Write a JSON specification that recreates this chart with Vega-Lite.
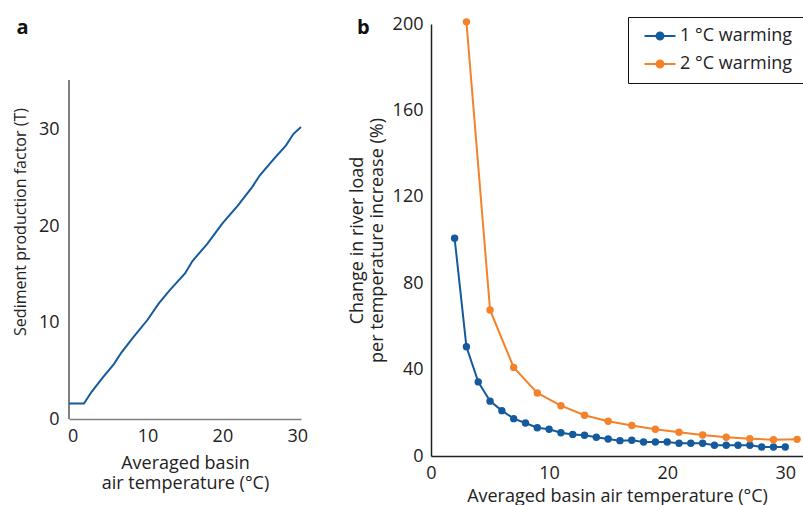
{
  "$schema": "https://vega.github.io/schema/vega-lite/v6.json",
  "padding": {"left": 12, "top": 15, "right": 0, "bottom": 0},
  "spacing": 40,
  "resolve": {"legend": {"color": "independent"}, "scale": {"color": "independent"}},
  "config": {
    "font": "Open Sans",
    "view": {"stroke": null},
    "axis": {"grid": false, "ticks": false, "labelFontSize": 18, "titleFontSize": 18, "titleFontWeight": "normal", "labelColor": "#222", "titleColor": "#222", "labelFont": "Open Sans", "titleFont": "Open Sans"},
    "title": {"fontSize": 20, "fontWeight": "bold", "font": "Open Sans", "color": "#111"}
  },
  "datasets": {
    "sed": [
      {"t": -0.5, "f": 1.6}, {"t": 1.5, "f": 1.6}, {"t": 2.5, "f": 2.8}, {"t": 4, "f": 4.3},
      {"t": 5.5, "f": 5.7}, {"t": 6.5, "f": 6.9}, {"t": 8, "f": 8.4}, {"t": 10, "f": 10.3},
      {"t": 11.5, "f": 12.0}, {"t": 13, "f": 13.4}, {"t": 15, "f": 15.1}, {"t": 16, "f": 16.4},
      {"t": 18, "f": 18.2}, {"t": 20, "f": 20.3}, {"t": 22, "f": 22.1}, {"t": 24, "f": 24.1},
      {"t": 25, "f": 25.3}, {"t": 27, "f": 27.1}, {"t": 28.5, "f": 28.4}, {"t": 29.5, "f": 29.6},
      {"t": 30.5, "f": 30.3}
    ],
    "load": [
      {"t": 2, "c": 100.8, "s": "1 °C warming"}, {"t": 3, "c": 50.6, "s": "1 °C warming"},
      {"t": 4, "c": 34.3, "s": "1 °C warming"}, {"t": 5, "c": 25.4, "s": "1 °C warming"},
      {"t": 6, "c": 21.0, "s": "1 °C warming"}, {"t": 7, "c": 17.3, "s": "1 °C warming"},
      {"t": 8, "c": 15.3, "s": "1 °C warming"}, {"t": 9, "c": 13.1, "s": "1 °C warming"},
      {"t": 10, "c": 12.4, "s": "1 °C warming"}, {"t": 11, "c": 10.8, "s": "1 °C warming"},
      {"t": 12, "c": 10.0, "s": "1 °C warming"}, {"t": 13, "c": 9.6, "s": "1 °C warming"},
      {"t": 14, "c": 8.7, "s": "1 °C warming"}, {"t": 15, "c": 7.9, "s": "1 °C warming"},
      {"t": 16, "c": 7.1, "s": "1 °C warming"}, {"t": 17, "c": 7.3, "s": "1 °C warming"},
      {"t": 18, "c": 6.5, "s": "1 °C warming"}, {"t": 19, "c": 6.5, "s": "1 °C warming"},
      {"t": 20, "c": 6.5, "s": "1 °C warming"}, {"t": 21, "c": 5.9, "s": "1 °C warming"},
      {"t": 22, "c": 5.9, "s": "1 °C warming"}, {"t": 23, "c": 5.9, "s": "1 °C warming"},
      {"t": 24, "c": 5.0, "s": "1 °C warming"}, {"t": 25, "c": 5.0, "s": "1 °C warming"},
      {"t": 26, "c": 5.0, "s": "1 °C warming"}, {"t": 27, "c": 5.0, "s": "1 °C warming"},
      {"t": 28, "c": 4.2, "s": "1 °C warming"}, {"t": 29, "c": 4.2, "s": "1 °C warming"},
      {"t": 30, "c": 4.2, "s": "1 °C warming"},
      {"t": 3, "c": 201, "s": "2 °C warming"}, {"t": 5, "c": 67.6, "s": "2 °C warming"},
      {"t": 7, "c": 41.0, "s": "2 °C warming"}, {"t": 9, "c": 29.2, "s": "2 °C warming"},
      {"t": 11, "c": 23.3, "s": "2 °C warming"}, {"t": 13, "c": 18.9, "s": "2 °C warming"},
      {"t": 15, "c": 16.1, "s": "2 °C warming"}, {"t": 17, "c": 14.1, "s": "2 °C warming"},
      {"t": 19, "c": 12.4, "s": "2 °C warming"}, {"t": 21, "c": 11.0, "s": "2 °C warming"},
      {"t": 23, "c": 9.7, "s": "2 °C warming"}, {"t": 25, "c": 8.7, "s": "2 °C warming"},
      {"t": 27, "c": 8.0, "s": "2 °C warming"}, {"t": 29, "c": 7.5, "s": "2 °C warming"},
      {"t": 31, "c": 7.7, "s": "2 °C warming"}
    ]
  },
  "hconcat": [
    {
      "title": {"text": "a", "anchor": "start", "frame": "bounds", "offset": -14, "dx": 4},
      "width": 232,
      "height": 395,
      "data": {"name": "sed"},
      "encoding": {
        "x": {"field": "t", "type": "quantitative", "scale": {"domain": [-0.5, 30.5], "nice": false, "zero": false},
              "axis": {"values": [0, 10, 20, 30], "domainColor": "#808080", "domainWidth": 1.5, "labelPadding": 8, "labelFlush": false,
                       "title": ["Averaged basin", "air temperature (°C)"], "titlePadding": 9, "titleLineHeight": 20}},
        "y": {"field": "f", "type": "quantitative", "scale": {"domain": [0, 41], "nice": false},
              "axis": {"values": [0, 10, 20, 30], "domain": false, "labelPadding": 10, "titleFontSize": 16,
                       "title": "Sediment production factor (T)", "titlePadding": 10}}
      },
      "layer": [
        {"mark": {"type": "rule", "color": "#808080", "strokeWidth": 1.5},
         "encoding": {"x": {"datum": -0.5}, "y": {"datum": 0}, "y2": {"datum": 35.1}}},
        {"mark": {"type": "line", "color": "#155a9c", "strokeWidth": 2}}
      ]
    },
    {
      "title": {"text": "b", "anchor": "start", "frame": "bounds", "offset": -23, "dx": 9},
      "width": 372,
      "height": 432,
      "data": {"name": "load"},
      "mark": {"type": "line", "strokeWidth": 2, "point": {"filled": true, "size": 55, "opacity": 1}},
      "encoding": {
        "x": {"field": "t", "type": "quantitative", "scale": {"domain": [0, 31.5], "nice": false},
              "axis": {"values": [0, 10, 20, 30], "domainColor": "#222", "domainWidth": 1.5, "labelPadding": 8, "labelFlush": false,
                       "title": "Averaged basin air temperature (°C)", "titlePadding": 5}},
        "y": {"field": "c", "type": "quantitative", "scale": {"domain": [0, 200], "nice": false},
              "axis": {"values": [0, 40, 80, 120, 160, 200], "domainColor": "#222", "domainWidth": 1.5, "labelPadding": 8,
                       "title": ["Change in river load", "per temperature increase (%)"], "titlePadding": 6}},
        "color": {"field": "s", "type": "nominal",
                  "scale": {"domain": ["1 °C warming", "2 °C warming"], "range": ["#155a9c", "#f4822a"]},
                  "legend": {"title": null, "orient": "none", "legendX": 197, "legendY": -7, "labelFontSize": 18, "labelColor": "#222",
                             "strokeColor": "#111", "fillColor": "white", "padding": 10,
                             "symbolType": "M-0.333,0H3.8M1.266,0A0.467,0.467,0,1,0,2.2,0A0.467,0.467,0,1,0,1.266,0Z",
                             "symbolSize": 225, "symbolStrokeWidth": 2, "rowPadding": 10, "labelOffset": 24,
                             "encode": {"symbols": {"update": {"fill": {"scale": "color", "field": "value"}}}}}}
      }
    }
  ]
}
